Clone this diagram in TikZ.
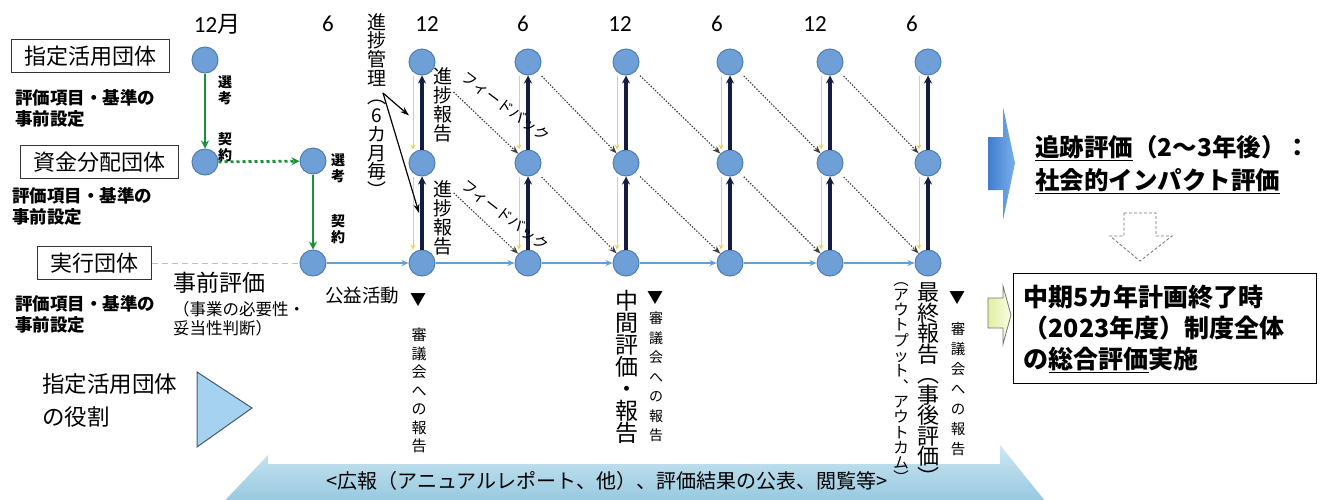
\documentclass[tikz,border=0pt]{standalone}
\usepackage{fontspec}
\setmainfont{Noto Sans CJK JP}
\newfontfamily\calfont{Carlito}
\usetikzlibrary{arrows.meta,calc}
\pgfdeclarelayer{background}
\pgfsetlayers{background,main}
\definecolor{nodeblue}{RGB}{110,160,215}
\definecolor{nodeedge}{RGB}{80,125,180}
\definecolor{navyc}{RGB}{20,28,65}
\definecolor{grn}{RGB}{25,145,55}
\definecolor{lineblue}{RGB}{95,160,215}
\definecolor{yel}{RGB}{235,215,70}
\definecolor{bandtop}{RGB}{205,231,242}
\definecolor{bandbot}{RGB}{140,195,220}
\definecolor{triblue}{RGB}{165,210,240}
\definecolor{tridraw}{RGB}{70,90,110}
\definecolor{arrowdark}{RGB}{65,125,205}
\definecolor{arrowlight}{RGB}{120,175,235}
\definecolor{paleA}{RGB}{222,240,160}
\definecolor{paleB}{RGB}{250,252,228}
\newcommand{\setfs}[2]{\fontsize{#1}{#2}\selectfont}
\begin{document}
\begin{tikzpicture}[x=1pt,y=-1pt,
  dot/.style={circle,fill=nodeblue,draw=nodeedge,line width=1pt,minimum size=26pt,inner sep=0pt},
  box/.style={draw=black!80,line width=1pt,inner xsep=13pt,inner ysep=6pt,font=\setfs{22}{26}},
  small/.style={font=\bfseries\setfs{17.5}{21},align=left,inner sep=0pt,anchor=north west},
  vlab/.style={align=center,inner sep=0pt,anchor=north},
  month/.style={font=\setfs{23}{26},inner sep=0pt},
  grarr/.style={draw=grn,line width=2.8pt,-{Stealth[length=8pt,width=8pt]}},
  navyarr/.style={draw=navyc,line width=3.5pt,-{Stealth[length=8pt,width=8pt]}},
  feed/.style={draw=black!75,dash pattern=on 1.5pt off 1.5pt,line width=1.1pt,-{Stealth[length=8pt,width=6pt]}},
  flow/.style={draw=lineblue,line width=2pt,-{Stealth[length=7pt,width=6pt]}},
  yline/.style={draw=yel,line width=1pt,-{Stealth[length=5pt,width=5pt]}},
  thinarr/.style={draw=black,line width=1.2pt,-{Stealth[length=9pt,width=6pt]}}
]
\useasboundingbox (0,0) rectangle (1321,499);

% public-relations band
\shade[top color=bandtop,bottom color=bandbot] (214,512) -- (268,455) -- (268,464) -- (1000,464) -- (1000,445) -- (1054,512) -- cycle;
\node[font=\setfs{20}{22},inner sep=0pt] (pub) at (607,481) {<広報（アニュアルレポート、他）、評価結果の公表、閲覧等>};

% month labels
\node[month] (mo1) at (217,24) {{\calfont 12}月};
\node[month] (mo2) at (328,24) {\calfont 6};
\node[month] (mo3) at (427,24) {\calfont 12};
\node[month] (mo4) at (523,24) {\calfont 6};
\node[month] (mo5) at (620,24) {\calfont 12};
\node[month] (mo6) at (717,24) {\calfont 6};
\node[month] (mo7) at (815,24) {\calfont 12};
\node[month] (mo8) at (912,24) {\calfont 6};

% left boxes and notes
\node[box] (shitei) at (90,56) {指定活用団体};
\node[box] (shikin) at (99,162) {資金分配団体};
\node[box] (jikko) at (94,263) {実行団体};
\node[small] (s1) at (15,89) {評価項目・基準の\\事前設定};
\node[small] (s2) at (12,187) {評価項目・基準の\\事前設定};
\node[small] (s3) at (15,295) {評価項目・基準の\\事前設定};

\node[font=\setfs{23}{26},inner sep=0pt] (jizen) at (219,283) {事前評価};
\node[font=\setfs{16.5}{19},align=left,anchor=north west,inner sep=0pt] (jizen2) at (173,301) {（事業の必要性・\\妥当性判断）};
\node[font=\setfs{18.5}{22},inner sep=0pt] (koeki) at (362,295) {公益活動};

\node[font=\setfs{22.5}{33},align=left,anchor=north west,inner sep=0pt] (role) at (42,373) {指定活用団体\\の役割};
\draw[fill=triblue,draw=tridraw,line width=1pt] (197,372) -- (252,408) -- (197,447) -- cycle;

% circles
\node[dot] (t1) at (205,60) {};
\node[dot] (m1) at (205,162) {};
\node[dot] (n2) at (313,161) {};
\node[dot] (b2) at (313,263) {};
\foreach \i/\x in {3/422,4/528,5/626,6/730,7/830,8/928}{
  \node[dot] (t\i) at (\x,62) {};
  \node[dot] (m\i) at (\x,163) {};
  \node[dot] (b\i) at (\x,263) {};
}

% yellow guide lines
\begin{pgfonlayer}{background}
\foreach \i in {3,...,8}{
  \draw[yline] ([xshift=-9pt]t\i.south) -- ([xshift=-9pt]m\i.north);
  \draw[yline] ([xshift=-9pt]m\i.south) -- ([xshift=-9pt]b\i.north);
}
\end{pgfonlayer}

% green selection / contract arrows
\draw[grarr] (t1) -- (m1);
\draw[grarr,dash pattern=on 3pt off 3pt] (m1) -- (n2);
\draw[grarr] (n2) -- (b2);
\draw[black!25,dash pattern=on 6pt off 4pt,line width=0.8pt] (jikko.east) -- (b2);

\node[vlab,font=\bfseries\setfs{14}{16}] (sen1) at (225,76) {選\\考};
\node[vlab,font=\bfseries\setfs{14}{16}] (kei1) at (225,132) {契\\約};
\node[vlab,font=\bfseries\setfs{14}{16}] (sen2) at (338,154) {選\\考};
\node[vlab,font=\bfseries\setfs{14}{16}] (kei2) at (338,214) {契\\約};

% activity flow
\draw[flow] (b2) -- (b3);
\foreach \i/\j in {3/4,4/5,5/6,6/7,7/8}{
  \draw[flow] (b\i) -- (b\j);
}

% progress reports
\foreach \i in {3,...,8}{
  \draw[navyarr] (b\i) -- (m\i);
  \draw[navyarr] (m\i) -- (t\i);
}

% feedback
\draw[feed,shorten <=30pt] (t3) -- (m4);
\draw[feed,shorten <=30pt] (m3) -- (b4);
\foreach \i/\j in {4/5,5/6,6/7,7/8}{
  \draw[feed,shorten <=6pt] (t\i) -- (m\j);
  \draw[feed,shorten <=6pt] (m\i) -- (b\j);
}
\node[font=\setfs{15}{15},rotate=-37,inner sep=0pt] (fb1) at (506,107) {フィードバック};
\node[font=\setfs{15}{15},rotate=-38,inner sep=0pt] (fb2) at (505,215) {フィードバック};

\node[vlab,font=\setfs{19}{19}] (rep1) at (443,67) {進\\捗\\報\\告};
\node[vlab,font=\setfs{19}{19}] (rep2) at (443,180) {進\\捗\\報\\告};

% progress management
\node[vlab,font=\setfs{19}{18.7}] (kanri) at (377,13) {進\\捗\\管\\理\\︵\\6\\カ\\月\\毎\\︶};
\coordinate (pk) at (383,93);
\coordinate (pkA) at ($(t3)!0.5!(m3)+(-13,3)$);
\coordinate (pkB) at ($(m3)!0.5!(b3)+(-3,0)$);
\draw[thinarr] (pk) -- (pkA);
\draw[thinarr] (pk) -- (pkB);

% council reports
\node[font=\setfs{16}{16},inner sep=0pt] (tri1) at (418,300) {▼};
\node[vlab,font=\setfs{15}{18.5}] (cr1) at (419,328) {審\\議\\会\\へ\\の\\報\\告};

\node[vlab,font=\setfs{23}{22}] (mid) at (627,290) {中\\間\\評\\価\\・\\報\\告};
\node[font=\setfs{16}{16},inner sep=0pt] (tri2) at (655,298) {▼};
\node[vlab,font=\setfs{14}{19.5}] (cr2) at (656,312) {審\\議\\会\\へ\\の\\報\\告};

\node[vlab,font=\setfs{22}{20.5}] (final) at (928,283) {最\\終\\報\\告\\︵\\事\\後\\評\\価\\︶};
\node[vlab,font=\setfs{15.5}{15.3}] (outc) at (901,282) {︵\\ア\\ウ\\ト\\プ\\ッ\\ト\\︑\\ア\\ウ\\ト\\カ\\ム\\︶};
\node[font=\setfs{16}{16},inner sep=0pt] (tri3) at (957,298) {▼};
\node[vlab,font=\setfs{14.5}{20}] (cr3) at (958,322) {審\\議\\会\\へ\\の\\報\\告};

% right side
\shade[left color=arrowdark,right color=arrowlight] (988,137) -- (1003,137) -- (1003,107) -- (1015,163) -- (1003,220) -- (1003,190) -- (988,190) -- cycle;
\node[font=\bfseries\setfs{24.5}{33},align=left,anchor=north west,inner sep=0pt] (trace) at (1035,135) {\underline{追跡評価}（2〜3年後）：\\\underline{社会的インパクト評価}};
\draw[black!55,dash pattern=on 3pt off 2pt,line width=0.8pt] (1124,213) -- (1156,213) -- (1156,236) -- (1172,236) -- (1140,261) -- (1110,236) -- (1124,236) -- cycle;
\shade[left color=paleA,right color=paleB] (988,298) -- (1003,298) -- (1003,286) -- (1011,315) -- (1003,344) -- (1003,328) -- (988,328) -- cycle;
\draw[black!55,line width=0.8pt] (988,298) -- (1003,298) -- (1003,286) -- (1011,315) -- (1003,344) -- (1003,328) -- (988,328) -- cycle;
\node[draw=black,line width=1.3pt,font=\bfseries\setfs{25}{31},align=left,anchor=north west,text width=283pt,inner xsep=10pt,inner ysep=11pt] (summary) at (1013,273) {中期5カ年計画終了時\\（2023年度）制度全体\\の\underline{総合評価}実施};
\end{tikzpicture}
\end{document}
